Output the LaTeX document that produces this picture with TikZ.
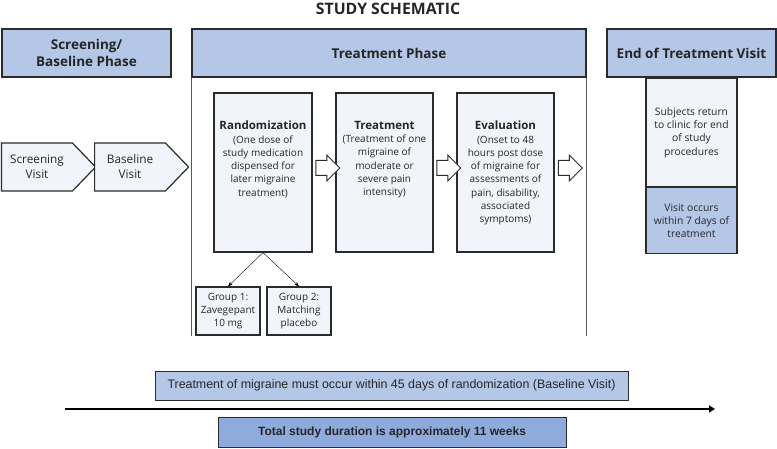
\documentclass[tikz,border=0pt]{standalone}
\usepackage{fontspec}
\setmainfont{Open Sans}
\newfontfamily\barfont{Liberation Sans}
\usetikzlibrary{shapes.symbols, shapes.arrows, arrows.meta, calc}
\definecolor{hdrblue}{HTML}{B4C7E7}
\definecolor{paleblue}{HTML}{F1F4FA}
\definecolor{midblue}{HTML}{8FAADC}
\definecolor{edgegray}{HTML}{2B2B2B}
\definecolor{linegray}{HTML}{5A5A5A}

\begin{document}
\begin{tikzpicture}[x=1pt, y=-1pt, text=black!85,
		phase/.style={draw=edgegray, fill=hdrblue, line width=1.2pt, inner sep=0pt, align=center, font=\bfseries\fontsize{13.5}{17}\selectfont},
		stepbox/.style={draw=edgegray, fill=paleblue, line width=1.2pt, inner sep=0pt, align=center, font=\fontsize{10}{13.3}\selectfont},
		visit/.style={signal, signal to=east, signal pointer angle=92, draw=edgegray, fill=paleblue, line width=1.2pt, align=center, font=\fontsize{11.8}{15}\selectfont, minimum height=48pt, minimum width=94pt, anchor=west},
		fatarrow/.style={single arrow, draw=edgegray, fill=white, line width=1pt, inner sep=7pt, minimum height=24pt, single arrow head extend=5.5pt},
		phaseline/.style={draw=linegray, line width=1.3pt},
		barbox/.style={draw=edgegray, line width=1pt, font=\barfont\fontsize{12}{14}\selectfont}]
		\useasboundingbox (0,0) rectangle (777,449);
		
		\node[font=\bfseries\fontsize{15.8}{18}\selectfont] (title) at (388,9) {STUDY SCHEMATIC};
		
		% phase headers
		\node[phase, minimum width=169pt, minimum height=48pt] (scrhead) at (86.5,53) {Screening/\\Baseline Phase};
		\node[phase, minimum width=394pt, minimum height=48pt] (trthead) at (389,53) {Treatment Phase};
		\node[phase, minimum width=169pt, minimum height=48pt] (eothead) at (691.5,53) {End of Treatment Visit};
		\draw[phaseline] (trthead.south west) -- ++(0,258);
		\draw[phaseline] (trthead.south east) -- ++(0,258);
		
		% screening / baseline
		\node[visit] (scrvisit) at (1,167) {Screening\\Visit};
		\node[visit] (basevisit) at (94,167) {Baseline\\Visit};
		
		% treatment phase
		\node[stepbox, minimum width=98pt, minimum height=159pt] (rand) at (263,172.5) {\parbox[c][159pt][t]{96pt}{\centering\vspace*{28pt}\textbf{\fontsize{11.5}{13}\selectfont Randomization}\\(One dose of\\study medication\\dispensed for\\later migraine\\treatment)}};
		\node[stepbox, minimum width=97pt, minimum height=159pt] (treat) at (384.5,172.5) {\parbox[c][159pt][t]{96pt}{\centering\vspace*{28pt}\textbf{\fontsize{11.5}{13}\selectfont Treatment}\\(Treatment of one\\migraine of\\moderate or\\severe pain\\intensity)}};
		\node[stepbox, minimum width=97pt, minimum height=159pt] (eval) at (505.5,172.5) {\parbox[c][159pt][t]{96pt}{\centering\vspace*{28pt}\textbf{\fontsize{11.5}{13}\selectfont Evaluation}\\(Onset to 48\\hours post dose\\of migraine for\\assessments of\\pain, disability,\\associated\\symptoms)}};
		\node[fatarrow] (arr1) at (324,168) {};
		\node[fatarrow] (arr2) at (445,168) {};
		\node[fatarrow] (arr3) at (566.5,168) {};
		
		\node[stepbox, minimum width=64pt, minimum height=48pt] (grp1) at (228,311) {Group 1:\\Zavegepant\\10 mg};
		\node[stepbox, minimum width=64pt, minimum height=48pt] (grp2) at (299,311) {Group 2:\\Matching\\placebo};
		\draw[-Stealth, thin] (rand.south) -- (grp1.north);
		\draw[-Stealth, thin] (rand.south) -- (grp2.north);
		
		% end of treatment
		\node[stepbox, minimum width=91pt, minimum height=108.5pt, anchor=north, font=\fontsize{10.3}{13.3}\selectfont] (eotinfo) at (eothead.south) {Subjects return\\to clinic for end\\of study\\procedures};
		\node[stepbox, fill=hdrblue, minimum width=91pt, minimum height=66pt, anchor=north, font=\fontsize{10.3}{13.3}\selectfont] (eotwin) at (eotinfo.south) {Visit occurs\\within 7 days of\\treatment};
		
		% timeline
		\node[barbox, fill=hdrblue, minimum width=473pt, minimum height=29pt, font=\barfont\fontsize{12.4}{14}\selectfont] (window) at (391.5,385.5) {Treatment of migraine must occur within 45 days of randomization (Baseline Visit)};
		\coordinate (tstart) at (65,409);
		\coordinate (tend) at (715,409);
		\draw[line width=2pt, -{Triangle[length=6pt,width=7pt]}] (tstart) -- (tend);
		\node[barbox, fill=midblue, minimum width=348pt, minimum height=30pt, font=\barfont\bfseries\fontsize{12}{14}\selectfont] (total) at (392,432) {Total study duration is approximately 11 weeks};
\end{tikzpicture}
\end{document}
